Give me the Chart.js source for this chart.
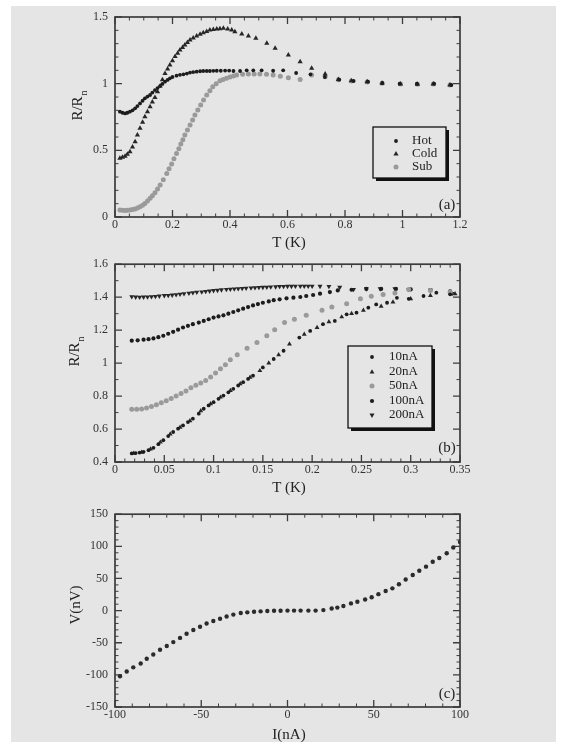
<!DOCTYPE html>
<html><head><meta charset="utf-8">
<script src="https://cdn.jsdelivr.net/npm/chart.js@4/dist/chart.umd.min.js"></script>
<style>
html,body{margin:0;padding:0;background:#fff;}
#page{position:relative;width:576px;height:748px;overflow:hidden;background:#fff;}
#bg{position:absolute;left:11px;top:6px;width:545px;height:736px;background:#e5e5e5;}
canvas{position:absolute;left:0;}
</style></head><body>
<div id="page"><div id="bg"></div>
<canvas id="ca" width="576" height="250" style="top:0;width:576px;height:250px"></canvas>
<canvas id="cb" width="576" height="250" style="top:250px;width:576px;height:250px"></canvas>
<canvas id="cc" width="576" height="248" style="top:500px;width:576px;height:248px"></canvas>
</div>
<script>
// ---------- Panel (a) ----------
const hotT = [0.017,0.026,0.035,0.043,0.052,0.061,0.07,0.078,0.087,0.096,0.104,0.113,0.122,0.13,0.139,0.148,0.157,0.165,0.174,0.183,0.191,0.2,0.214,0.226,0.238,0.25,0.261,0.272,0.284,0.296,0.307,0.319,0.33,0.342,0.354,0.368,0.383,0.397,0.412,0.435,0.458,0.481,0.51,0.55,0.585,0.63,0.68,0.73,0.78,0.83,0.88,0.93,0.99,1.05,1.11,1.17];
const hotR = [0.79,0.782,0.777,0.782,0.79,0.80,0.815,0.832,0.852,0.872,0.89,0.903,0.915,0.933,0.952,0.967,0.982,0.998,1.015,1.028,1.04,1.05,1.06,1.066,1.07,1.076,1.083,1.087,1.09,1.093,1.095,1.095,1.095,1.096,1.097,1.097,1.098,1.098,1.095,1.095,1.10,1.10,1.10,1.097,1.1,1.08,1.07,1.05,1.03,1.02,1.015,1.005,1.0,1.0,1.0,0.99];
const coldT = [0.017,0.026,0.035,0.043,0.052,0.061,0.07,0.078,0.087,0.096,0.104,0.113,0.122,0.13,0.139,0.148,0.157,0.165,0.174,0.183,0.191,0.2,0.209,0.218,0.226,0.235,0.243,0.252,0.261,0.272,0.284,0.296,0.307,0.319,0.33,0.342,0.354,0.365,0.377,0.392,0.406,0.417,0.441,0.464,0.49,0.528,0.557,0.603,0.644,0.684,0.731,0.777,0.822,0.877,0.929,0.993,1.052,1.107,1.165];
const coldR = [0.44,0.448,0.455,0.47,0.49,0.525,0.565,0.615,0.665,0.71,0.752,0.79,0.827,0.862,0.897,0.94,0.982,1.03,1.077,1.11,1.14,1.172,1.203,1.228,1.252,1.271,1.29,1.308,1.327,1.343,1.357,1.37,1.382,1.392,1.402,1.406,1.41,1.412,1.415,1.41,1.402,1.39,1.372,1.357,1.34,1.303,1.265,1.215,1.165,1.115,1.072,1.032,1.022,1.015,1.003,0.997,0.995,0.997,0.99];
const subT = [0.017,0.026,0.035,0.043,0.052,0.061,0.07,0.078,0.087,0.096,0.104,0.113,0.122,0.13,0.139,0.148,0.157,0.168,0.18,0.188,0.197,0.205,0.214,0.222,0.229,0.236,0.243,0.252,0.261,0.27,0.278,0.288,0.298,0.308,0.319,0.33,0.34,0.352,0.365,0.376,0.388,0.4,0.412,0.423,0.444,0.464,0.484,0.504,0.527,0.55,0.575,0.603,0.644,0.684,0.731,0.777,0.822,0.877,0.929,0.993,1.052,1.107,1.165];
const subR = [0.053,0.05,0.048,0.05,0.053,0.056,0.06,0.068,0.077,0.088,0.102,0.12,0.14,0.16,0.182,0.21,0.24,0.28,0.327,0.362,0.397,0.437,0.477,0.512,0.547,0.58,0.615,0.652,0.69,0.728,0.765,0.803,0.84,0.878,0.915,0.946,0.977,1.0,1.022,1.031,1.04,1.05,1.058,1.065,1.07,1.073,1.073,1.073,1.07,1.065,1.055,1.045,1.032,1.065,1.052,1.03,1.02,1.013,1.003,0.997,0.995,0.997,0.99];
const aXTicks = [0,0.2,0.4,0.6,0.8,1,1.2];
const aYTicks = [0,0.5,1,1.5];

// ---------- Panel (b) ----------
const b10T = [0.017,0.021,0.025,0.029,0.034,0.039,0.044,0.049,0.054,0.059,0.064,0.069,0.074,0.079,0.085,0.09,0.095,0.10,0.105,0.11,0.115,0.12,0.125,0.13,0.135,0.14,0.15,0.161,0.171,0.187,0.198,0.211,0.223,0.235,0.245,0.257,0.265,0.276,0.286,0.298,0.313,0.326,0.340];
const b10R = [0.452,0.454,0.457,0.462,0.472,0.486,0.508,0.532,0.557,0.582,0.602,0.622,0.642,0.663,0.693,0.723,0.743,0.763,0.783,0.803,0.823,0.844,0.864,0.884,0.904,0.924,0.974,1.025,1.075,1.155,1.195,1.236,1.256,1.296,1.306,1.336,1.356,1.366,1.396,1.39,1.407,1.427,1.417];
const b20T = [0.019,0.027,0.036,0.046,0.056,0.066,0.076,0.087,0.097,0.107,0.117,0.127,0.137,0.147,0.156,0.166,0.177,0.192,0.205,0.217,0.23,0.24,0.252,0.27,0.282,0.30,0.32,0.345];
const b20R = [0.453,0.459,0.478,0.52,0.57,0.61,0.65,0.71,0.753,0.793,0.833,0.874,0.914,0.954,1.0,1.05,1.115,1.175,1.215,1.25,1.28,1.30,1.32,1.345,1.37,1.39,1.41,1.42];
const b50T = [0.017,0.022,0.027,0.032,0.037,0.042,0.047,0.052,0.057,0.062,0.067,0.072,0.077,0.082,0.087,0.092,0.097,0.102,0.107,0.112,0.117,0.124,0.134,0.144,0.154,0.162,0.172,0.182,0.194,0.21,0.22,0.235,0.249,0.26,0.272,0.284,0.298,0.32,0.34];
const b50R = [0.72,0.72,0.722,0.728,0.737,0.748,0.76,0.772,0.785,0.80,0.815,0.83,0.85,0.865,0.88,0.895,0.915,0.94,0.965,0.99,1.02,1.05,1.09,1.125,1.166,1.202,1.246,1.266,1.29,1.32,1.34,1.36,1.39,1.405,1.416,1.426,1.447,1.44,1.43];
const b100T = [0.017,0.023,0.029,0.034,0.039,0.044,0.049,0.054,0.059,0.064,0.069,0.074,0.079,0.085,0.09,0.095,0.10,0.105,0.11,0.115,0.12,0.125,0.13,0.135,0.14,0.145,0.15,0.156,0.161,0.167,0.174,0.181,0.188,0.194,0.201,0.208,0.218,0.226,0.24,0.255,0.27,0.285,0.30,0.32,0.34];
const b100R = [1.136,1.138,1.142,1.145,1.15,1.157,1.166,1.178,1.19,1.203,1.216,1.226,1.236,1.246,1.256,1.266,1.276,1.283,1.29,1.30,1.31,1.32,1.33,1.34,1.35,1.358,1.366,1.374,1.382,1.387,1.393,1.397,1.401,1.407,1.413,1.421,1.431,1.441,1.445,1.45,1.45,1.45,1.447,1.443,1.435];
const b200T = [0.017,0.021,0.025,0.029,0.033,0.037,0.041,0.045,0.05,0.054,0.058,0.062,0.066,0.07,0.075,0.079,0.083,0.088,0.092,0.096,0.10,0.104,0.108,0.113,0.117,0.121,0.125,0.129,0.133,0.138,0.142,0.146,0.15,0.154,0.158,0.163,0.167,0.171,0.175,0.179,0.183,0.188,0.192,0.196,0.2,0.208,0.217,0.228,0.242,0.255,0.269,0.284,0.298,0.32,0.342];
const b200R = [1.403,1.401,1.40,1.401,1.402,1.403,1.405,1.407,1.41,1.411,1.413,1.415,1.418,1.421,1.424,1.427,1.43,1.432,1.435,1.437,1.44,1.442,1.445,1.447,1.449,1.45,1.452,1.453,1.455,1.456,1.458,1.459,1.46,1.461,1.462,1.463,1.465,1.465,1.466,1.466,1.467,1.467,1.467,1.467,1.467,1.466,1.465,1.46,1.447,1.451,1.451,1.451,1.447,1.443,1.423];
const bXTicks = [0,0.05,0.1,0.15,0.2,0.25,0.3,0.35];
const bYTicks = [0.4,0.6,0.8,1,1.2,1.4,1.6];

// ---------- Panel (c) ----------
const cI = [-97.1,-93.2,-89.4,-85.1,-81.6,-77.8,-73.9,-70.0,-66.2,-62.3,-58.5,-54.6,-50.7,-46.9,-43.0,-39.1,-35.3,-31.4,-27.1,-23.3,-19.4,-15.6,-11.7,-7.8,-4.0,0.0,3.8,7.6,12.1,16.3,20.8,25.6,28.9,32.4,36.8,40.5,45.0,48.8,52.7,56.9,60.8,64.6,68.5,72.6,76.4,80.3,84.2,88.0,92.3,96.1,100.0];
const cV = [-102.2,-94.8,-88.3,-82.3,-74.9,-68.4,-60.9,-55.0,-49.0,-42.5,-36.0,-30.1,-25.1,-20.1,-16.2,-12.7,-9.2,-6.2,-3.7,-2.7,-1.7,-1.2,-0.7,-0.2,-0.2,0,0,0,0,0,0.75,3.2,4.7,7.2,11.2,13.7,17.2,20.7,25.6,30.6,34.6,41.1,48.5,55.5,61.9,68.4,75.9,81.8,89.3,98.3,106.7];
const cXTicks = [-100,-50,0,50,100];
const cYTicks = [-150,-100,-50,0,50,100,150];

// ---------- styling / helpers ----------
const FONT = "'Liberation Serif','Times New Roman',serif";
const INK = '#1c1c1c', GRAY = '#9a9a9a', BG = '#e5e5e5';
const fmt = v => String(+(+v).toFixed(3));

function pts(xs, ys){ return xs.map((x,i)=>({x:x, y:ys[i]})); }
function ds(label, xs, ys, style, color, r, rot){
  return {label, data: pts(xs,ys), pointStyle: style, pointRadius: r, pointHoverRadius: r,
    pointBackgroundColor: color, pointBorderColor: color, pointBorderWidth: 0,
    pointRotation: rot||0, showLine:false};
}

const framePlugin = {
  id:'frame',
  beforeDatasetsDraw(chart, a, o){
    const ctx = chart.ctx, ca = chart.chartArea, x = chart.scales.x, y = chart.scales.y;
    ctx.save();
    ctx.strokeStyle = '#3c3c3c';
    const ticks = (scale, minor, major, horiz) => {
      const n = Math.round((scale.max - scale.min)/minor);
      for (let i=0;i<=n;i++){
        const v = scale.min + i*minor;
        const r = v/major;
        const isMaj = Math.abs(r-Math.round(r)) < 1e-6;
        const L = isMaj ? 7 : 3.5;
        ctx.lineWidth = isMaj ? 1.3 : 1;
        const p = scale.getPixelForValue(v);
        ctx.beginPath();
        if (horiz){ ctx.moveTo(p, ca.bottom); ctx.lineTo(p, ca.bottom-L); ctx.moveTo(p, ca.top); ctx.lineTo(p, ca.top+L); }
        else { ctx.moveTo(ca.left, p); ctx.lineTo(ca.left+L, p); ctx.moveTo(ca.right, p); ctx.lineTo(ca.right-L, p); }
        ctx.stroke();
      }
    };
    ticks(x, o.xMinor, o.xMajor, true);
    ticks(y, o.yMinor, o.yMajor, false);
    ctx.lineWidth = 1.7;
    ctx.strokeRect(ca.left, ca.top, ca.right-ca.left, ca.bottom-ca.top);
    ctx.restore();
  }
};

function drawMarker(ctx, ds, x, y){
  const opts = {pointStyle: ds.pointStyle, radius: ds.pointRadius, rotation: ds.pointRotation||0, borderWidth:0};
  ctx.fillStyle = ds.pointBackgroundColor; ctx.strokeStyle = ds.pointBackgroundColor;
  if (Chart.helpers && Chart.helpers.drawPoint) Chart.helpers.drawPoint(ctx, opts, x, y);
  else { ctx.beginPath(); ctx.arc(x,y,ds.pointRadius,0,Math.PI*2); ctx.fill(); }
}

const decoPlugin = {
  id:'deco',
  afterDraw(chart, a, o){
    const ctx = chart.ctx;
    ctx.save();
    ctx.fillStyle = '#222';
    ctx.textBaseline = 'middle';
    // x title
    ctx.font = `15px ${FONT}`; ctx.textAlign = 'center';
    ctx.fillText(o.xTitle, o.xTitleX, o.xTitleY);
    // panel tag
    ctx.font = `15px ${FONT}`;
    ctx.fillText(o.tag, o.tagX, o.tagY);
    // y title (rotated)
    ctx.save();
    ctx.translate(o.yTitleX, o.yTitleY); ctx.rotate(-Math.PI/2);
    ctx.font = `15px ${FONT}`;
    const w1 = ctx.measureText(o.yTitle).width;
    let w2 = 0;
    if (o.yTitleSub){ ctx.font = `10px ${FONT}`; w2 = ctx.measureText(o.yTitleSub).width; }
    const start = -(w1 + w2)/2;
    ctx.textAlign = 'left';
    ctx.font = `15px ${FONT}`;
    ctx.fillText(o.yTitle, start, 0);
    if (o.yTitleSub){ ctx.font = `10px ${FONT}`; ctx.fillText(o.yTitleSub, start + w1 + 1, 6); }
    ctx.restore();
    // legend
    if (o.legend){
      const L = o.legend;
      ctx.fillStyle = '#111'; ctx.fillRect(L.x+3, L.y+3, L.w, L.h);
      ctx.fillStyle = BG; ctx.fillRect(L.x, L.y, L.w, L.h);
      ctx.strokeStyle = '#111'; ctx.lineWidth = 1.3; ctx.strokeRect(L.x, L.y, L.w, L.h);
      chart.data.datasets.forEach((d,i) => {
        const ry = L.rows[i];
        drawMarker(ctx, d, L.mx, ry);
        ctx.fillStyle = '#222'; ctx.font = `13px ${FONT}`; ctx.textAlign = 'left'; ctx.textBaseline = 'middle';
        ctx.fillText(d.label, L.tx, ry);
      });
    }
    ctx.restore();
  }
};

function axis(min, max, tickArr, size, isX){
  const cfg = {
    type:'linear', min, max,
    grid:{display:false, drawTicks:false}, border:{display:false},
    afterBuildTicks: s => { s.ticks = tickArr.map(v => ({value:v})); },
    ticks:{autoSkip:false, maxRotation:0, color:'#333', font:{family:FONT, size:12}, padding: isX?1:7, callback: v => fmt(v)}
  };
  if (isX) cfg.afterFit = s => { s.height = size; };
  else cfg.afterFit = s => { s.width = size; };
  return cfg;
}

function makeChart(id, datasets, xr, yr, xt, yt, padTop, xH, frameOpts, deco){
  return new Chart(document.getElementById(id), {
    type:'scatter',
    data:{datasets},
    options:{
      responsive:false, animation:false, devicePixelRatio:1, events:[],
      layout:{padding:{top:padTop, right:116, left:0, bottom:0}},
      scales:{ x: axis(xr[0], xr[1], xt, xH, true), y: axis(yr[0], yr[1], yt, 115, false) },
      plugins:{ legend:{display:false}, tooltip:{enabled:false}, frame: frameOpts, deco: deco }
    },
    plugins:[framePlugin, decoPlugin]
  });
}

// (a)
makeChart('ca', [
  ds('Hot', hotT, hotR, 'circle', INK, 1.9),
  ds('Cold', coldT, coldR, 'triangle', '#262626', 3.0),
  ds('Sub', subT, subR, 'circle', GRAY, 2.5)
], [0,1.2], [0,1.5], aXTicks, aYTicks, 17, 33,
  {xMinor:0.05, xMajor:0.2, yMinor:0.1, yMajor:0.5},
  {xTitle:'T (K)', xTitleX:289, xTitleY:243, yTitle:'R/R', yTitleSub:'n', yTitleX:78, yTitleY:106,
   tag:'(a)', tagX:447, tagY:205,
   legend:{x:373, y:127, w:73, h:51, rows:[141,154,167], mx:396, tx:412}});

// (b)
makeChart('cb', [
  ds('10nA', b10T, b10R, 'circle', INK, 1.9),
  ds('20nA', b20T, b20R, 'triangle', '#262626', 2.8),
  ds('50nA', b50T, b50R, 'circle', GRAY, 2.5),
  ds('100nA', b100T, b100R, 'circle', INK, 2.1),
  ds('200nA', b200T, b200R, 'triangle', '#262626', 2.9, 180)
], [0,0.35], [0.4,1.6], bXTicks, bYTicks, 13, 38,
  {xMinor:0.01, xMajor:0.05, yMinor:0.1, yMajor:0.2},
  {xTitle:'T (K)', xTitleX:289, xTitleY:238, yTitle:'R/R', yTitleSub:'n', yTitleX:75, yTitleY:102,
   tag:'(b)', tagX:447, tagY:198,
   legend:{x:348, y:96, w:84, h:82, rows:[107,122,136,151,165], mx:372, tx:389}});

// (c)
makeChart('cc', [
  ds('V', cI, cV, 'circle', '#2b2b2b', 2.2)
], [-100,100], [-150,150], cXTicks, cYTicks, 6, 41,
  {xMinor:10, xMajor:50, yMinor:10, yMajor:50},
  {xTitle:'I(nA)', xTitleX:289, xTitleY:235, yTitle:'V(nV)', yTitleSub:'', yTitleX:76, yTitleY:105,
   tag:'(c)', tagX:447, tagY:194});
</script>
</body></html>
